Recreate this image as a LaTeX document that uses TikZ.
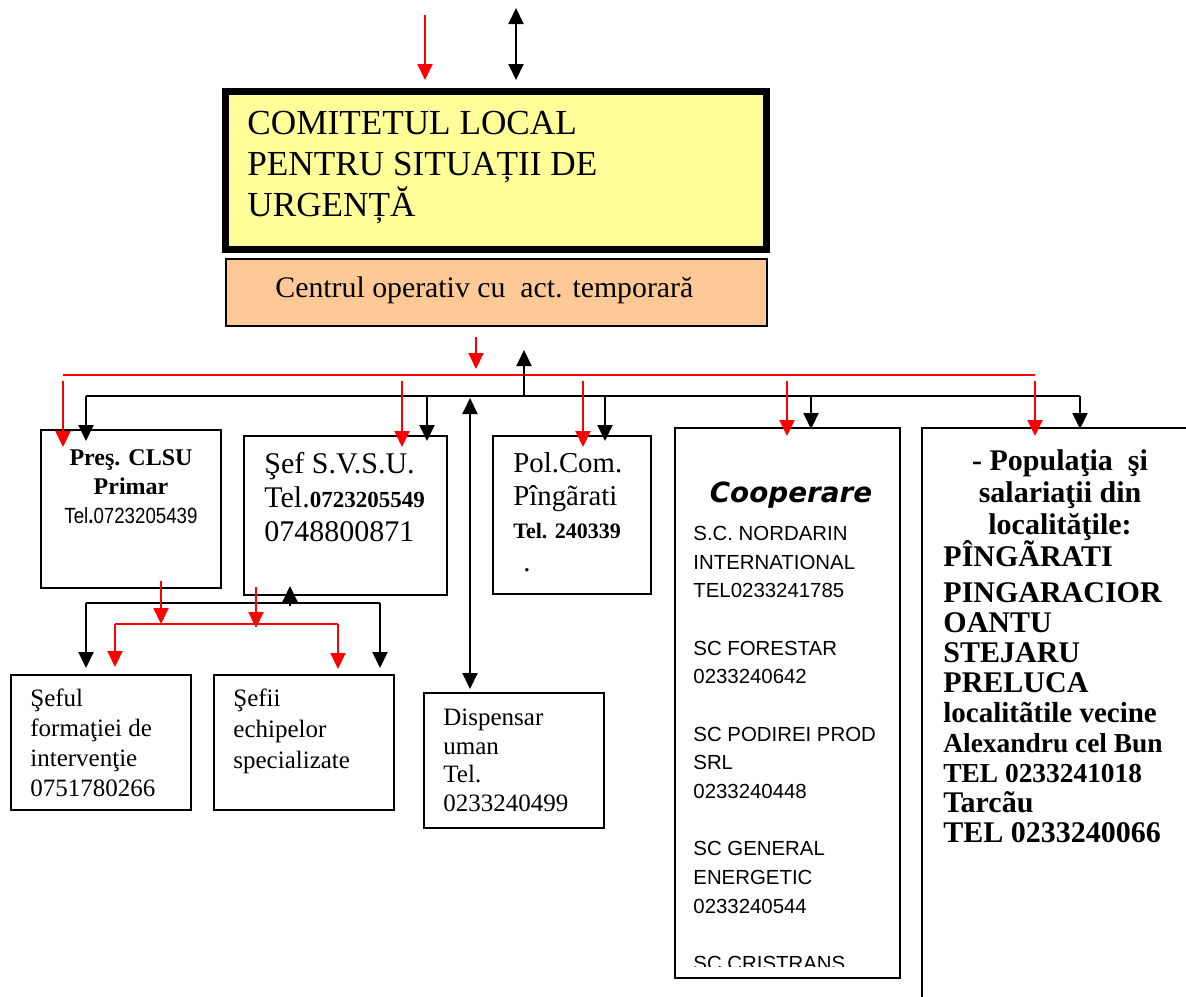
\documentclass[tikz,border=0pt]{standalone}
\usepackage{fontspec}
\setmainfont{Liberation Serif}
\setsansfont{Liberation Sans}
\newfontfamily\coopfont{DejaVu Sans}
\newfontfamily\narrowsans[FakeStretch=0.85]{Liberation Sans}
\usetikzlibrary{arrows.meta,calc,fit}
\definecolor{clsuyellow}{HTML}{FFFF99}
\definecolor{coporange}{HTML}{FFC997}
\tikzset{
  >={Triangle[length=8pt,width=7.5pt]},
  box/.style={draw,line width=1pt,inner sep=0pt},
  txt/.style={inner sep=0pt,anchor=north west,align=left},
  redarr/.style={red,line width=1pt,->},
  blkarr/.style={black,line width=1pt,->},
  blkarrs/.style={black,line width=1pt,<->},
  redbus/.style={red,line width=1pt},
  blkbus/.style={black,line width=1pt}
}

\begin{document}
\begin{tikzpicture}[x=0.5pt,y=-0.5pt]
    \clip (0,0) rectangle (1186,996);

    % comitet si centru operativ
    \node [box,fill=clsuyellow,line width=3.5pt,fit={(225.5,91.5)(766.5,249.5)}] (clsu) {};
    \node [box,fill=coporange,fit={(226,259)(767,326)}] (cop) {};
    \node [txt,font=\fontsize{17.6}{20.5}\selectfont] (clsutxt) at (247,111) {COMITETUL LOCAL\\PENTRU SITUAȚII DE\\URGENȚĂ};
    \node [txt,anchor=base west,font=\fontsize{14.9}{17}\selectfont] (coptxt) at (275,297) {Centrul operativ cu \ act. temporară};

    \coordinate (intop) at (425,15);
    \coordinate (iotop) at (516,8);
    \draw [redarr] (intop) -- ($(intop |- clsu.north)+(0,-8)$);
    \draw [blkarrs] (iotop) -- ($(iotop |- clsu.north)+(0,-8)$);

    % casutele de sub centru
    \node [box,fit={(41,430)(221,588)}] (pres) {};
    \node [box,fit={(244,436)(447,595)}] (svsu) {};
    \node [box,fit={(493,436)(651,594)}] (pol) {};
    \node [box,fit={(675,428)(900,978)}] (coop) {};
    \node [box,fit={(922,428)(1200,1010)}] (pop) {};
    \node [box,fit={(11,675)(191,810)}] (forma) {};
    \node [box,fit={(214,675)(394,810)}] (echipe) {};
    \node [box,fit={(424,693)(604,828)}] (disp) {};

    % magistralele
    \coordinate (rl) at (63,375);
    \coordinate (rr) at (1035,375);
    \coordinate (bl) at (86,396);
    \coordinate (br) at (1080,396);
    \draw [redbus] (rl) -- (rr);
    \draw [blkbus] (bl) -- (br);
    \coordinate (rin) at (476,337);
    \coordinate (bout) at (524,350);
    \draw [redarr] (rin) -- ($(rin |- rl)+(0,-6)$);
    \draw [blkarr] (bout |- bl) -- (bout);

    \foreach \rx/\kx/\bx/\dr/\dk in {63/86/pres/18/12, 402/427/svsu/12/6, 583/605/pol/12/6, 787/811/coop/9/2, 1035/1080/pop/9/2}{
      \coordinate (rd) at (\rx,381);
      \coordinate (kd) at (\kx,396);
      \draw [redarr] (rd) -- ($(rd |- \bx.north)+(0,\dr)$);
      \draw [blkarr] (kd) -- ($(kd |- \bx.north)+(0,\dk)$);
    }

    \coordinate (dtop) at (470,398);
    \draw [blkarrs] (dtop) -- ($(dtop |- disp.north)+(0,-3)$);

    % legaturile de jos
    \coordinate (lbl) at (86,603);
    \coordinate (lbr) at (380,603);
    \draw [blkbus] (lbl) -- (lbr);
    \draw [blkarr] (lbl) -- ($(lbl |- forma.north)+(0,-6)$);
    \draw [blkarr] (lbr) -- ($(lbr |- echipe.north)+(0,-6)$);
    \coordinate (lup) at (290,606);
    \draw [blkarr] (lup) -- ($(lup |- svsu.south)+(0,-10)$);
    \coordinate (lrl) at (115,624);
    \coordinate (lrr) at (338,624);
    \draw [redbus] (lrl) -- (lrr);
    \draw [redarr] (lrl) -- ($(lrl |- forma.north)+(0,-7)$);
    \draw [redarr] (lrr) -- ($(lrr |- echipe.north)+(0,-5)$);
    \coordinate (pr1) at (161,581);
    \coordinate (pr2) at (256,587);
    \draw [redarr] (pr1) -- (pr1 |- lrl);
    \draw [redarr] (pr2) -- ($(pr2 |- lrl)+(0,4)$);

    % texte
    \node [txt,anchor=north,align=center,font=\fontsize{12}{14.5}\selectfont] (prestxt) at (131,449) {\textbf{Preş. CLSU}\\\textbf{Primar}\\{\narrowsans\fontsize{11}{14.5}\selectfont Tel\textbf{.}0723205439}};
    \node [txt,font=\fontsize{15}{17}\selectfont] (svsutxt) at (264,452) {Şef S.V.S.U.\\Tel.{\bfseries\fontsize{11.5}{17}\selectfont 0723205549}\\0748800871};
    \node [txt,font=\fontsize{14.4}{16.5}\selectfont] (poltxt) at (513,452) {Pol.Com.\\Pîngãrati\\{\bfseries\fontsize{11}{16.5}\selectfont Tel. 240339}\\\hspace{5pt}.};
    \node [inner sep=0pt,font=\coopfont\bfseries\itshape\fontsize{13.9}{16}\selectfont] (cooptitle) at (791,495) {Cooperare};
    \begin{scope}
      \clip (676,428) rectangle (899,966);
      \node [txt,font=\sffamily\fontsize{10.2}{14.33}\selectfont] (cooptxt) at (693,526) {S.C. NORDARIN\\INTERNATIONAL\\TEL0233241785\\[14.33pt]SC FORESTAR\\0233240642\\[14.33pt]SC PODIREI PROD\\SRL\\0233240448\\[14.33pt]SC GENERAL\\ENERGETIC\\0233240544\\[14.33pt]SC CRISTRANS};
    \end{scope}
    \node [txt,anchor=north,align=center,font=\bfseries\fontsize{15}{16}\selectfont] (poptop) at (1060,449) {- Populaţia \ şi\\salariaţii din\\localităţile:};
    \node [txt,font=\bfseries\fontsize{15}{15}\selectfont] (poptxt) at (943,540) {PÎNGÃRATI\\[3pt]PINGARACIOR\\OANTU\\STEJARU\\PRELUCA\\{\fontsize{14.5}{15}\selectfont localitãtile vecine}\\{\fontsize{13.7}{15}\selectfont Alexandru cel Bun}\\{\fontsize{13.7}{15}\selectfont TEL 0233241018}\\Tarcãu\\TEL 0233240066};
    \node [txt,font=\fontsize{12.5}{15}\selectfont] (formatxt) at (30,688) {Şeful\\formaţiei de\\intervenţie\\0751780266};
    \node [txt,font=\fontsize{12.5}{15.5}\selectfont] (echipetxt) at (233,688) {Şefii\\echipelor\\specializate};
    \node [txt,font=\fontsize{12.5}{14.25}\selectfont] (disptxt) at (443,709) {Dispensar\\uman\\Tel.\\0233240499};
\end{tikzpicture}
\end{document}
